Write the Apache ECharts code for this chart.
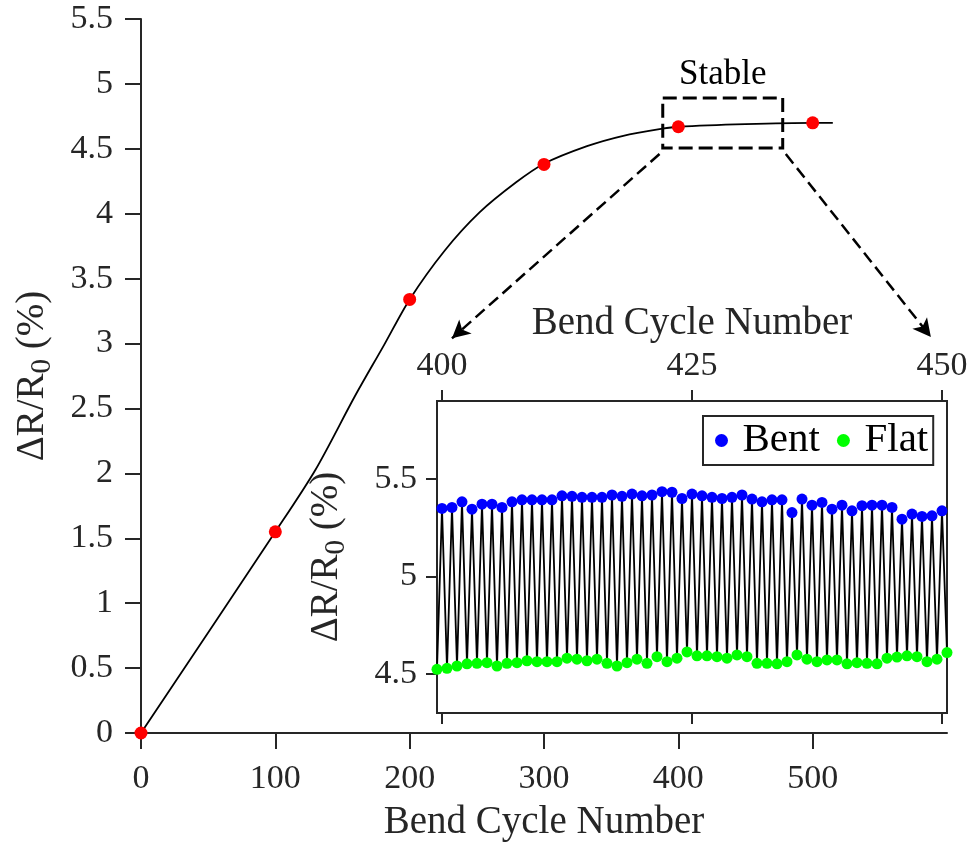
<!DOCTYPE html>
<html>
<head>
<meta charset="utf-8">
<script src="https://cdn.jsdelivr.net/npm/echarts@6/dist/echarts.min.js"></script>
<style>
html,body{margin:0;padding:0;background:#fff;}
#chart{width:972px;height:848px;}
</style>
</head>
<body>
<div id="chart"></div>
<script>
// ---- Main chart data ----
const mainCycles = [0, 100, 200, 300, 400, 500];
const mainValues = [0, 1.55, 3.34, 4.38, 4.67, 4.70];
// fitted curve
const curveCycles = [0, 100, 130, 159, 181, 200, 226, 252, 279, 300, 332, 359, 388, 400, 450, 500, 515];
const curveValues = [0, 1.55, 2.03, 2.59, 2.99, 3.34, 3.715, 4.01, 4.24, 4.385, 4.52, 4.60, 4.655, 4.67, 4.69, 4.70, 4.70];
const mainXTicks = [0, 100, 200, 300, 400, 500];

// ---- Inset data ----
const bentCycles = [400,401,402,403,404,405,406,407,408,409,410,411,412,413,414,415,416,417,418,419,420,421,422,423,424,425,426,427,428,429,430,431,432,433,434,435,436,437,438,439,440,441,442,443,444,445,446,447,448,449,450];
const bentValues = [5.349,5.354,5.383,5.345,5.371,5.371,5.354,5.383,5.393,5.393,5.393,5.393,5.414,5.411,5.406,5.406,5.406,5.418,5.411,5.423,5.414,5.418,5.435,5.432,5.400,5.423,5.414,5.406,5.400,5.406,5.418,5.397,5.383,5.393,5.393,5.328,5.397,5.366,5.380,5.345,5.366,5.337,5.363,5.366,5.366,5.354,5.294,5.320,5.308,5.311,5.337];
const flatCycles = [399.5,400.5,401.5,402.5,403.5,404.5,405.5,406.5,407.5,408.5,409.5,410.5,411.5,412.5,413.5,414.5,415.5,416.5,417.5,418.5,419.5,420.5,421.5,422.5,423.5,424.5,425.5,426.5,427.5,428.5,429.5,430.5,431.5,432.5,433.5,434.5,435.5,436.5,437.5,438.5,439.5,440.5,441.5,442.5,443.5,444.5,445.5,446.5,447.5,448.5,449.5,450.5];
const flatValues = [4.524,4.529,4.541,4.552,4.555,4.558,4.541,4.555,4.558,4.568,4.563,4.563,4.563,4.581,4.576,4.568,4.576,4.555,4.541,4.558,4.576,4.555,4.589,4.563,4.581,4.613,4.593,4.593,4.589,4.581,4.598,4.589,4.555,4.555,4.552,4.563,4.598,4.576,4.563,4.572,4.572,4.552,4.558,4.555,4.552,4.581,4.587,4.593,4.589,4.563,4.576,4.610];
const insetXTicks = [400, 425, 450];
const insetYTicks = [4.5, 5, 5.5];

// ---- Annotation anchors (data space) ----
const stableBox = [[388.4, 4.892], [477.7, 4.507]];
const arrowLeft = [[386, 4.46], [231.5, 3.04]];
const arrowRight = [[480, 4.46], [588, 3.05]];

const FONT = 'Liberation Serif';
const AX = '#262626';
const TICK_FS = 34;
const TITLE_FS = 39;

const zig = [];
for (let i = 0; i < flatCycles.length; i++) {
  zig.push([flatCycles[i], flatValues[i]]);
  if (i < bentCycles.length) zig.push([bentCycles[i], bentValues[i]]);
}

const yName = '{a|ΔR/R}{s|0}{a| (%)}';
const yNameStyle = {
  color: AX, fontFamily: FONT, fontSize: TITLE_FS,
  rich: {
    a: {fontFamily: FONT, fontSize: TITLE_FS, color: AX},
    s: {fontFamily: FONT, fontSize: 29, color: AX, padding: [20, 0, 0, 0]}
  }
};

const chart = echarts.init(document.getElementById('chart'), null, {renderer: 'canvas'});
chart.setOption({
  backgroundColor: '#fff',
  animation: false,
  grid: [
    {left: 141, top: 19, width: 806, height: 714, show: false},
    {left: 437, top: 401, width: 510, height: 312, show: true, backgroundColor: '#fff', borderColor: AX, borderWidth: 2, z: 3}
  ],
  legend: {
    data: ['Bent', 'Flat'],
    left: 703, top: 416,
    orient: 'horizontal',
    icon: 'circle',
    itemWidth: 32, itemHeight: 13, itemGap: 17,
    padding: [4, 5, 4, 12],
    borderColor: AX, borderWidth: 2, backgroundColor: '#fff',
    textStyle: {fontFamily: FONT, fontSize: 41, color: '#000'},
    z: 10
  },
  xAxis: [
    {
      gridIndex: 0, type: 'value', min: 0, max: 600,
      name: 'Bend Cycle Number', nameLocation: 'middle', nameGap: 70,
      nameTextStyle: {fontFamily: FONT, fontSize: TITLE_FS, color: AX},
      axisLine: {show: true, onZero: false, lineStyle: {color: AX, width: 2}},
      axisTick: {show: true, inside: false, length: 16, customValues: mainXTicks, lineStyle: {color: AX, width: 2}},
      axisLabel: {customValues: mainXTicks, margin: 29, fontFamily: FONT, fontSize: TICK_FS, color: AX},
      splitLine: {show: false}
    },
    {
      gridIndex: 1, type: 'value', min: 399.5, max: 450.5, position: 'top',
      name: 'Bend Cycle Number', nameLocation: 'middle', nameGap: 58,
      nameTextStyle: {fontFamily: FONT, fontSize: TITLE_FS, color: AX},
      axisLine: {show: true, onZero: false, lineStyle: {color: AX, width: 2}},
      axisTick: {show: true, length: 11, customValues: insetXTicks, lineStyle: {color: AX, width: 2}},
      axisLabel: {customValues: insetXTicks, margin: 18, fontFamily: FONT, fontSize: TICK_FS, color: AX},
      splitLine: {show: false}
    },
    {
      gridIndex: 1, type: 'value', min: 399.5, max: 450.5, position: 'bottom',
      axisLine: {show: true, onZero: false, lineStyle: {color: AX, width: 2}},
      axisTick: {show: true, length: 11, customValues: insetXTicks, lineStyle: {color: AX, width: 2}},
      axisLabel: {show: false},
      splitLine: {show: false}
    }
  ],
  yAxis: [
    {
      gridIndex: 0, type: 'value', min: 0, max: 5.5, interval: 0.5,
      name: yName, nameLocation: 'middle', nameGap: 84, nameRotate: 90,
      nameTextStyle: yNameStyle,
      axisLine: {show: true, onZero: false, lineStyle: {color: AX, width: 2}},
      axisTick: {show: true, length: 16, lineStyle: {color: AX, width: 2}},
      axisLabel: {margin: 28, fontFamily: FONT, fontSize: TICK_FS, color: AX},
      splitLine: {show: false}
    },
    {
      gridIndex: 1, type: 'value', min: 4.3, max: 5.9,
      name: yName, nameLocation: 'middle', nameGap: 86, nameRotate: 90,
      nameTextStyle: yNameStyle,
      axisLine: {show: true, onZero: false, lineStyle: {color: AX, width: 2}},
      axisTick: {show: true, length: 11, customValues: insetYTicks, lineStyle: {color: AX, width: 2}},
      axisLabel: {customValues: insetYTicks, margin: 20, fontFamily: FONT, fontSize: TICK_FS, color: AX},
      splitLine: {show: false}
    }
  ],
  series: [
    {
      name: 'curve', type: 'line', xAxisIndex: 0, yAxisIndex: 0,
      data: curveCycles.map((c, i) => [c, curveValues[i]]),
      smooth: 0.3, showSymbol: false, symbol: 'none',
      lineStyle: {color: '#000', width: 1.8}, z: 2, silent: true,
      markArea: {
        silent: true,
        itemStyle: {color: 'rgba(0,0,0,0)', borderColor: '#000', borderWidth: 3, borderType: [14, 6]},
        label: {show: true, position: 'top', distance: 4, formatter: 'Stable', fontFamily: FONT, fontSize: 35, color: '#000'},
        data: [[{coord: stableBox[0]}, {coord: stableBox[1]}]]
      },
      markLine: {
        silent: true, symbol: ['none', 'arrow'], symbolSize: [14, 18],
        label: {show: false},
        lineStyle: {color: '#000', width: 2.5, type: [12, 6]},
        data: [
          [{coord: arrowLeft[0]}, {coord: arrowLeft[1]}],
          [{coord: arrowRight[0]}, {coord: arrowRight[1]}]
        ]
      }
    },
    {
      name: 'points', type: 'scatter', xAxisIndex: 0, yAxisIndex: 0,
      data: mainCycles.map((c, i) => [c, mainValues[i]]),
      symbol: 'circle', symbolSize: 13, itemStyle: {color: '#ff0000', opacity: 1}, z: 5, clip: false
    },
    {
      name: 'zigzag', type: 'line', xAxisIndex: 1, yAxisIndex: 1,
      data: zig, showSymbol: false, symbol: 'none',
      lineStyle: {color: '#000', width: 1.8}, z: 4
    },
    {
      name: 'Bent', type: 'scatter', xAxisIndex: 1, yAxisIndex: 1,
      data: bentCycles.map((c, i) => [c, bentValues[i]]),
      symbol: 'circle', symbolSize: 11, itemStyle: {color: '#0000ff', opacity: 1}, z: 5
    },
    {
      name: 'Flat', type: 'scatter', xAxisIndex: 1, yAxisIndex: 1,
      data: flatCycles.map((c, i) => [c, flatValues[i]]),
      symbol: 'circle', symbolSize: 11, itemStyle: {color: '#00ff00', opacity: 1}, z: 5
    }
  ]
});
</script>
</body>
</html>
